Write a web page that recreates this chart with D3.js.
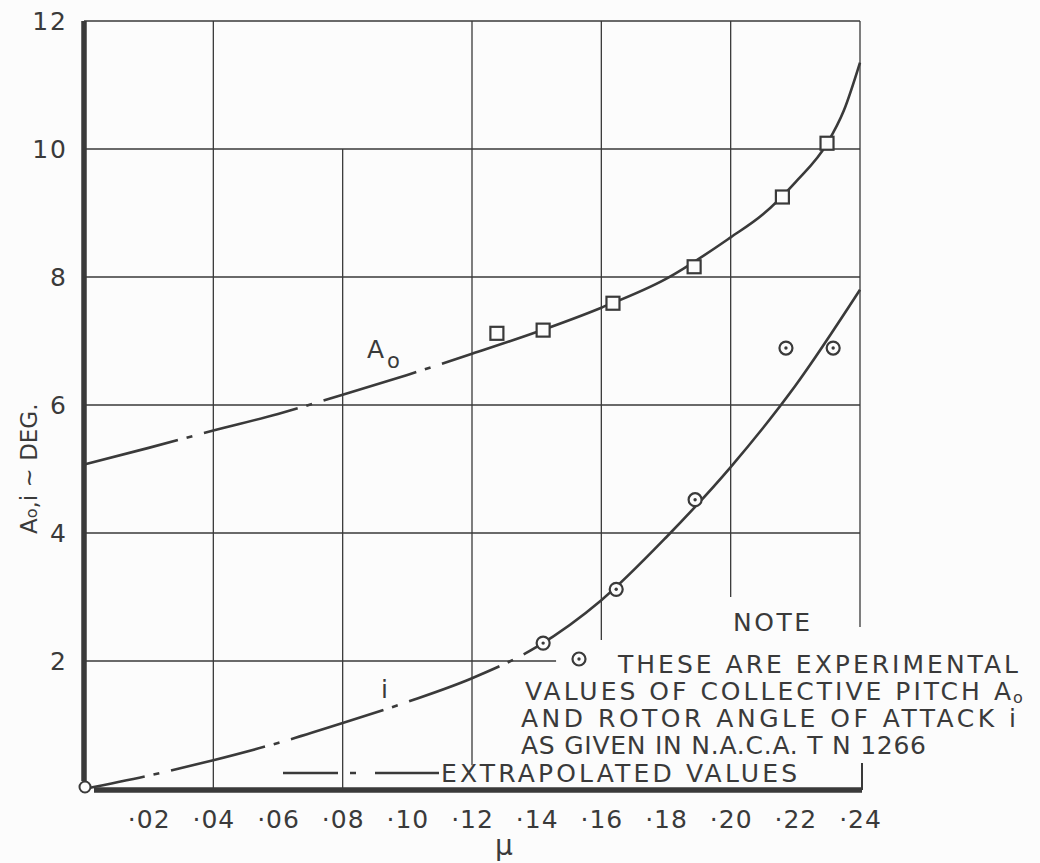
<!DOCTYPE html>
<html><head><meta charset="utf-8">
<script src="https://cdn.jsdelivr.net/npm/d3@7"></script>
<style>
body{margin:0;background:#fcfcfc}
svg{display:block}
text{font-family:"DejaVu Sans",sans-serif;fill:#3a3a3a}
</style>
</head><body>
<svg id="c" width="1040" height="863"></svg>
<script>
// ---------- data ----------
const xTicks = [0.02,0.04,0.06,0.08,0.10,0.12,0.14,0.16,0.18,0.20,0.22,0.24];
const xTickLabels = ["·02","·04","·06","·08","·10","·12","·14","·16","·18","·20","·22","·24"];
const yTicks = [2,4,6,8,10,12];
const yTickLabels = ["2","4","6","8","10","12"];

// faired curve A0 (collective pitch) vs mu
const a0CurveMu = [0,0.02,0.04,0.06,0.08,0.10,0.12,0.14,0.16,0.18,0.20,0.21,0.22,0.23,0.235,0.24];
const a0CurveVal = [5.07,5.33,5.6,5.86,6.16,6.47,6.8,7.14,7.52,7.97,8.62,8.98,9.48,10.1,10.6,11.35];
const a0ExtrapTo = 0.117;

// faired curve i (rotor angle of attack) vs mu
const iCurveMu = [0,0.02,0.04,0.06,0.08,0.10,0.12,0.14,0.16,0.18,0.20,0.22,0.24];
const iCurveVal = [0,0.21,0.45,0.72,1.03,1.36,1.73,2.22,2.95,3.93,5.03,6.3,7.8];
const iExtrapTo = 0.142;

// experimental points (N.A.C.A. TN 1266)
const a0PointsMu = [0.1277,0.142,0.1636,0.1887,0.216,0.2298];
const a0PointsVal = [7.12,7.17,7.59,8.16,9.25,10.09];
const iPointsMu = [0.142,0.1646,0.189,0.2171,0.2317];
const iPointsVal = [2.28,3.12,4.52,6.89,6.89];

// ---------- drawing ----------
const ink = "#3a3a3a";
const svg = d3.select("#c");
const x = d3.scaleLinear().domain([0,0.24]).range([84,860]);
const y = d3.scaleLinear().domain([0,12]).range([789,21]);

// grid (extents in data units, as drawn in the original)
const vGrid = [[0.04,0,12],[0.08,0,10],[0.12,0.37,12],[0.16,2.33,12],[0.20,3.0,12],[0.24,2.53,12]];
const hGrid = [[2,0,0.146],[4,0,0.24],[6,0,0.24],[8,0,0.24],[10,0,0.24],[12,0,0.24]];
const g = svg.append("g").attr("stroke",ink).attr("stroke-width",1.3).attr("fill","none");
vGrid.forEach(([v,a,b])=>g.append("line").attr("x1",x(v)).attr("x2",x(v)).attr("y1",y(a)).attr("y2",y(b)));
hGrid.forEach(([v,a,b])=>g.append("line").attr("y1",y(v)).attr("y2",y(v)).attr("x1",x(a)).attr("x2",x(b)));

// thick axes
svg.append("line").attr("x1",x(0)).attr("x2",x(0)).attr("y1",y(12)).attr("y2",y(0)-8)
  .attr("stroke",ink).attr("stroke-width",5.5);
svg.append("line").attr("x1",x(0)+10).attr("x2",x(0.24)+2).attr("y1",y(0)+1).attr("y2",y(0)+1)
  .attr("stroke",ink).attr("stroke-width",5.5);
svg.append("line").attr("x1",x(0.24)+2).attr("x2",x(0.24)+2).attr("y1",y(0)-26).attr("y2",y(0)+1)
  .attr("stroke",ink).attr("stroke-width",2);

// tick labels through d3 axes
const yAx = svg.append("g").attr("transform",`translate(${x(0)},0)`)
  .call(d3.axisLeft(y).tickValues(yTicks).tickFormat((d,i)=>yTickLabels[i]).tickSize(0).tickPadding(16));
yAx.select(".domain").remove();
yAx.attr("font-size",25).attr("font-family","DejaVu Sans");
yAx.selectAll("text").attr("fill",ink).attr("letter-spacing",2);

const xAx = svg.append("g").attr("transform",`translate(0,${y(0)})`)
  .call(d3.axisBottom(x).tickValues(xTicks).tickFormat((d,i)=>xTickLabels[i]).tickSize(0).tickPadding(21));
xAx.select(".domain").remove();
xAx.attr("font-size",25).attr("font-family","DejaVu Sans");
xAx.selectAll("text").attr("fill",ink).attr("letter-spacing",1);

// curves
const line = d3.line().curve(d3.curveMonotoneX);
function drawCurve(mus, vals, splitMu, firstDash){
  const pts = mus.map((m,i)=>[x(m),y(vals[i])]);
  const p = svg.append("path").attr("d",line(pts)).attr("fill","none")
    .attr("stroke",ink).attr("stroke-width",2.6).attr("stroke-linecap","butt");
  const node = p.node(), L = node.getTotalLength(), tx = x(splitMu);
  let lo=0, hi=L;
  for(let k=0;k<40;k++){const m=(lo+hi)/2; if(node.getPointAtLength(m).x<tx) lo=m; else hi=m;}
  const Ls = lo;
  const pattern = [9,6,12,97]; // off, on(dot), off, on(dash)
  const arr = [firstDash]; let acc = firstDash, k = 0;
  while(true){
    const seg = pattern[k%4]; const isOn = (k%4)%2===1;
    if(acc+seg >= Ls){
      if(isOn){ arr.push(L-acc+10); arr.push(L); }
      else { arr.push(Ls-acc); arr.push(L-Ls+10); arr.push(L); arr.push(L); }
      break;
    }
    arr.push(seg); acc += seg; k++;
  }
  if(arr.length%2) arr.push(L);
  p.attr("stroke-dasharray",arr.join(","));
}
drawCurve(a0CurveMu,a0CurveVal,a0ExtrapTo,97);
drawCurve(iCurveMu,iCurveVal,iExtrapTo,62);

// origin circle
svg.append("circle").attr("cx",x(0)+1).attr("cy",y(0)-2).attr("r",5.5)
  .attr("fill","#fcfcfc").attr("stroke",ink).attr("stroke-width",2);

// square markers
svg.selectAll("rect.sq").data(a0PointsMu).enter().append("rect")
  .attr("x",(d)=>x(d)-6.5).attr("y",(d,i)=>y(a0PointsVal[i])-6.5)
  .attr("width",13).attr("height",13)
  .attr("fill","#fcfcfc").attr("stroke",ink).attr("stroke-width",2.2);

// circle markers with centre dot
function dotCircle(cx,cy){
  svg.append("circle").attr("cx",cx).attr("cy",cy).attr("r",6.5)
    .attr("fill","#fcfcfc").attr("stroke",ink).attr("stroke-width",2.2);
  svg.append("circle").attr("cx",cx).attr("cy",cy).attr("r",1.7).attr("fill",ink);
}
iPointsMu.forEach((m,i)=>dotCircle(x(m),y(iPointsVal[i])));

// curve labels
svg.append("text").attr("x",367).attr("y",358).attr("font-size",25).text("A");
svg.append("text").attr("x",387).attr("y",368).attr("font-size",21).text("o");
svg.append("text").attr("x",381).attr("y",698).attr("font-size",25).text("i");

// axis titles
const yl = svg.append("text").attr("transform","translate(37,534) rotate(-90)").attr("font-size",23);
yl.append("tspan").text("A");
yl.append("tspan").attr("font-size",16).text("o");
yl.append("tspan").text(",i ~ DEG.");
svg.append("text").attr("x",504).attr("y",855).attr("text-anchor","middle").attr("font-size",28).text("μ");

// note
function t(str,x0,yb,len,fs){
  const e = svg.append("text").attr("x",x0).attr("y",yb).attr("font-size",fs||25).text(str);
  if(len) e.attr("textLength",len).attr("lengthAdjust","spacing");
  return e;
}
t("NOTE",733,631,77);
dotCircle(579,659);
t("THESE ARE EXPERIMENTAL",618,673,400);
t("VALUES OF COLLECTIVE PITCH A",525,700,486);
t("o",1013,703,0,16);
t("AND ROTOR ANGLE OF ATTACK i",521,727,495);
t("AS GIVEN IN N.A.C.A. T N 1266",521,754,405);

// legend for extrapolated values
svg.append("line").attr("x1",283).attr("x2",439).attr("y1",773).attr("y2",773)
  .attr("stroke",ink).attr("stroke-width",2.6).attr("stroke-dasharray","55,12,6,19,70");
t("EXTRAPOLATED VALUES",441,782,356);
</script>
</body></html>
